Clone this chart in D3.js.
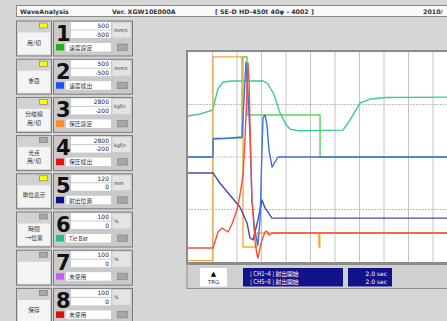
<!DOCTYPE html>
<html>
<head>
<meta charset="utf-8">
<script src="https://cdn.jsdelivr.net/npm/d3@7"></script>
<style>
  body { margin: 0; background: #d6d6d6; }
  svg { display: block; }
  text { font-family: "DejaVu Sans", "Noto Sans CJK JP", sans-serif; }
  .jp { font-family: "Noto Sans CJK JP", sans-serif; }
</style>
</head>
<body>
<div id="chart"></div>
<script>
// channel panel data
const chNums = [1, 2, 3, 4, 5, 6, 7, 8];
const chMax = [500, 500, 2800, 2800, 120, 100, 100, 100];
const chMin = [-500, -500, -200, -200, 0, 0, 0, 0];
const chUnits = ["mm/s", "mm/s", "kgf/c", "kgf/c", "mm", "%", "%", "%"];
const chLabels = ["速度設定", "速度検出", "保圧設定", "保圧検出", "射出位置", "Tie Bar", "未使用", "未使用"];
const chColors = ["#19b419", "#1f4fff", "#ff8a1e", "#ee1010", "#10108c", "#1fbf8c", "#c25cff", "#dd1010"];
const btnLabels = [["用/切"], ["重畳"], ["分岐線", "用/切"], ["光点", "用/切"], ["単位表示"], ["時間", "→位置"], [], ["保存"]];
const btnLamp = [true, true, true, false, true, false, false, false];

// traces: [time sec, value in channel units]
const ch1Speed = [[0, 0], [0.204, 0], [0.204, 90], [0.441, 90], [0.441, 476], [0.482, 476], [0.482, 200], [1.078, 200], [1.078, 0], [2.4, 0]];
const ch2Speed = [[0, 0], [0.204, 0], [0.204, 86], [0.3, 88], [0.441, 95], [0.457, 271], [0.473, 452], [0.49, 300], [0.506, 100], [0.522, -205], [0.547, -360], [0.571, -419], [0.588, -300], [0.604, 33], [0.612, 186], [0.629, 200], [0.645, 152], [0.661, 33], [0.686, -48], [0.71, -24], [0.735, 0], [2.4, 0]];
const ch3Press = [[0, -180], [0.204, -180], [0.204, 2730], [0.449, 2730], [0.449, 14], [0.563, 14], [0.563, 214], [1.069, 214], [1.069, 14], [1.076, 14], [1.076, 214], [2.4, 214]];
const ch4Press = [[0, 0], [0.204, 0], [0.245, 229], [0.278, 286], [0.302, 257], [0.327, 229], [0.359, 343], [0.4, 543], [0.424, 757], [0.449, 1043], [0.465, 1543], [0.482, 2257], [0.49, 2643], [0.498, 2400], [0.506, 1800], [0.522, 686], [0.547, 100], [0.563, -100], [0.571, -143], [0.588, 0], [0.604, 114], [0.629, 229], [0.645, 240], [0.661, 186], [0.686, 214], [2.4, 214]];
const ch5Pos = [[0, 50.9], [0.204, 50.9], [0.261, 45], [0.424, 31.4], [0.482, 22.3], [0.506, 13.7], [0.531, 12.6], [0.571, 24], [0.604, 35.4], [0.629, 30.9], [0.686, 25.1], [2.4, 25.1]];
const ch6Tie = [[0, 69.5], [0.1, 70.5], [0.204, 72.4], [0.22, 77], [0.245, 82.4], [0.286, 85.7], [0.36, 86.2], [0.612, 86.2], [0.65, 85], [0.7, 80], [0.751, 71], [0.8, 65.5], [0.833, 63.3], [0.9, 62.5], [1.265, 62.8], [1.322, 67.6], [1.404, 75.7], [1.486, 77.6], [1.62, 78.3], [2.4, 78.6]];

const traces = [
  { data: ch6Tie, ch: 5, color: "#3cc89c" },
  { data: ch1Speed, ch: 0, color: "#5ad35a" },
  { data: ch3Press, ch: 2, color: "#f2a83e" },
  { data: ch5Pos, ch: 4, color: "#4a4aa8" },
  { data: ch2Speed, ch: 1, color: "#3f6fe0" },
  { data: ch4Press, ch: 3, color: "#f2503a" }
];

const W = 447, H = 321;
const svg = d3.select("#chart").append("svg").attr("width", W).attr("height", H);
svg.append("rect").attr("width", W).attr("height", H).attr("fill", "#d6d6d6");

// title bar
svg.append("rect").attr("x", 16.5).attr("y", 5.5).attr("width", 440).attr("height", 11)
  .attr("fill", "#fafafa").attr("stroke", "#8a8a8a");
const titles = [["WaveAnalysis", 20], ["Ver. XGW10E000A", 112], ["[ SE-D HD-450t 40φ - 4002 ]", 215], ["2010/", 423]];
svg.selectAll(".title").data(titles).enter().append("text")
  .attr("x", d => d[1]).attr("y", 13.5).attr("font-size", 6.3).attr("font-weight", "bold")
  .attr("fill", "#333").text(d => d[0]);

// channel rows
const row = svg.selectAll(".row").data(chNums).enter().append("g")
  .attr("transform", (d, i) => "translate(0," + (20.5 + 38.2 * i) + ")");

row.append("rect").attr("x", 16.5).attr("y", 0.5).attr("width", 35).attr("height", 35)
  .attr("fill", "#d2d2d2").attr("stroke", "#7a7a7a");
row.append("rect").attr("x", 18).attr("y", 12).attr("width", 32).attr("height", 22).attr("fill", "#f4f4f4");
row.append("rect").attr("x", 39.5).attr("y", 2.5).attr("width", 8).attr("height", 5)
  .attr("fill", (d, i) => btnLamp[i] ? "#ffff00" : "#a8a8a8").attr("stroke", "#777").attr("stroke-width", 0.6);
row.each(function(d, i) {
  const lines = btnLabels[i];
  const y0 = lines.length === 2 ? 19.5 : 24;
  d3.select(this).selectAll(".bl").data(lines).enter().append("text")
    .attr("class", "jp").attr("x", 34).attr("y", (t, k) => y0 + k * 8.8)
    .attr("text-anchor", "middle").attr("font-size", 5.8).attr("fill", "#333").text(t => t);
});

row.append("rect").attr("x", 53.5).attr("y", 0.5).attr("width", 79).attr("height", 35)
  .attr("fill", "#cacaca").attr("stroke", "#7a7a7a");
row.append("text").attr("x", 56).attr("y", 20).attr("font-size", 21).attr("font-weight", "bold")
  .attr("fill", "#111").text(d => d);
row.append("rect").attr("x", 71).attr("y", 1.5).attr("width", 40).attr("height", 7.5).attr("fill", "#fff");
row.append("rect").attr("x", 71).attr("y", 10).attr("width", 40).attr("height", 7.5).attr("fill", "#fff");
row.append("text").attr("x", 109).attr("y", 7.5).attr("text-anchor", "end").attr("font-size", 6)
  .attr("fill", "#222").text((d, i) => chMax[i]);
row.append("text").attr("x", 109).attr("y", 16).attr("text-anchor", "end").attr("font-size", 6)
  .attr("fill", "#222").text((d, i) => chMin[i]);
row.append("rect").attr("x", 112.5).attr("y", 2).attr("width", 18).attr("height", 15).attr("fill", "#e4e4e4");
row.append("text").attr("x", 114).attr("y", 11.5).attr("font-size", 4.8).attr("fill", "#333")
  .text((d, i) => chUnits[i]);
row.append("rect").attr("x", 56).attr("y", 23.5).attr("width", 8).attr("height", 6.5)
  .attr("fill", (d, i) => chColors[i]);
row.append("rect").attr("x", 66).attr("y", 22.5).attr("width", 45).attr("height", 8.5).attr("fill", "#fff");
row.append("text").attr("class", "jp").attr("x", 69).attr("y", 29.3).attr("font-size", 5.8).attr("fill", "#333")
  .text((d, i) => chLabels[i]);
row.append("rect").attr("x", 117.5).attr("y", 23.5).attr("width", 10).attr("height", 6.5)
  .attr("fill", "#a6a6a6").attr("stroke", "#808080").attr("stroke-width", 0.6);

// plot area
const px0 = 188, py0 = 52, py1 = 262, divW = 24.5;
const x = d3.scaleLinear().domain([0, 2.4]).range([px0, px0 + 12 * divW]);
svg.append("rect").attr("x", px0 - 1).attr("y", py0 - 1).attr("width", 280).attr("height", py1 - py0 + 2)
  .attr("fill", "#fff").attr("stroke", "#8c8c8c").attr("stroke-width", 2);

svg.append("clipPath").attr("id", "clip").append("rect")
  .attr("x", px0).attr("y", py0).attr("width", 280).attr("height", py1 - py0);
const plot = svg.append("g").attr("clip-path", "url(#clip)");

plot.selectAll(".vg").data(d3.range(0.2, 2.4, 0.2)).enter().append("line")
  .attr("x1", d => x(d)).attr("x2", d => x(d)).attr("y1", py0).attr("y2", py1)
  .attr("stroke", "#c4c4c4").attr("stroke-width", 1);
const yGrid = d3.scaleLinear().domain([0, 4]).range([py1, py0]);
plot.selectAll(".hg").data([1, 2, 3]).enter().append("line")
  .attr("x1", px0).attr("x2", px0 + 280).attr("y1", d => yGrid(d)).attr("y2", d => yGrid(d))
  .attr("stroke", "#bdbdbd").attr("stroke-width", 1).attr("stroke-dasharray", "2,1");

traces.forEach(tr => {
  const y = d3.scaleLinear().domain([chMin[tr.ch], chMax[tr.ch]]).range([py1, py0]);
  const line = d3.line().x(d => x(d[0])).y(d => y(d[1]));
  plot.append("path").datum(tr.data).attr("d", line)
    .attr("fill", "none").attr("stroke", tr.color).attr("stroke-width", 1.4)
    .attr("stroke-linejoin", "round");
});

// bottom status panel
svg.append("rect").attr("x", 187).attr("y", 264.5).attr("width", 270).attr("height", 24)
  .attr("fill", "#d0d0d0").attr("stroke", "#8c8c8c");
svg.append("rect").attr("x", 200).attr("y", 268).attr("width", 27).attr("height", 18.5).attr("fill", "#fff");
svg.append("text").attr("x", 213.5).attr("y", 276).attr("text-anchor", "middle").attr("font-size", 7).text("▲");
svg.append("text").attr("x", 213.5).attr("y", 284).attr("text-anchor", "middle").attr("font-size", 5.5)
  .attr("fill", "#333").text("TRG");
const trigText = ["[ CH1~4 ] 射出開始", "[ CH5~8 ] 射出開始"];
const trigTime = ["2.0 sec", "2.0 sec"];
svg.append("rect").attr("x", 243).attr("y", 268).attr("width", 100).attr("height", 18.5).attr("fill", "#12128a");
svg.append("rect").attr("x", 348).attr("y", 268).attr("width", 44).attr("height", 18.5).attr("fill", "#12128a");
svg.selectAll(".tt").data(trigText).enter().append("text").attr("class", "jp")
  .attr("x", 250).attr("y", (d, i) => 275.5 + i * 8).attr("font-size", 5.8).attr("fill", "#fff").text(d => d);
svg.selectAll(".ts").data(trigTime).enter().append("text")
  .attr("x", 387).attr("y", (d, i) => 275.5 + i * 8).attr("text-anchor", "end").attr("font-size", 6)
  .attr("fill", "#fff").text(d => d);
</script>
</body>
</html>
